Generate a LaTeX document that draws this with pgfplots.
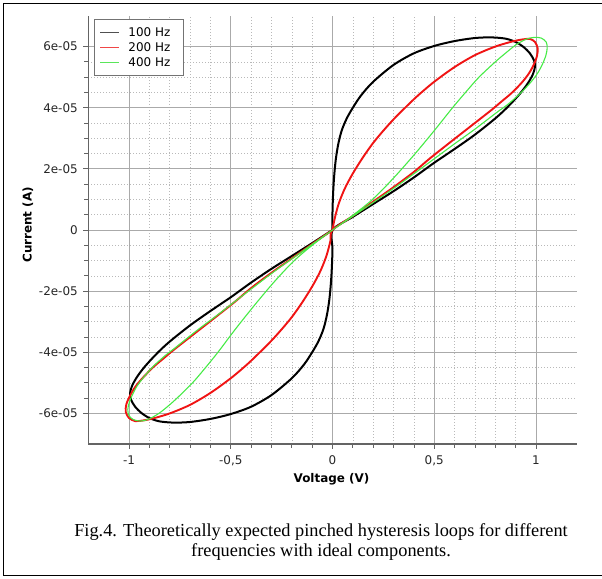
\documentclass[border=0pt]{standalone}
\usepackage{fontspec}
\setmainfont{DejaVu Sans}
\newfontfamily\capfont{Liberation Serif}
\usepackage{pgfplots}
\pgfplotsset{compat=1.18}
\usepackage{pgfplotstable}
\definecolor{gridmaj}{RGB}{170,170,170}
\definecolor{gridmin}{RGB}{185,185,185}
\definecolor{axgray}{RGB}{100,100,100}
\definecolor{cred}{RGB}{240,20,20}
\definecolor{cgreen}{RGB}{70,235,70}
\definecolor{lgblack}{RGB}{80,80,80}
\definecolor{lgred}{RGB}{240,70,70}
\definecolor{lggreen}{RGB}{90,230,90}

% 100 Hz
\pgfplotstableread{
x y
0 0
0 0.6e-5
0.003 1.2e-5
0.008 1.75e-5
0.016 2.3e-5
0.028 2.8e-5
0.045 3.25e-5
0.07 3.65e-5
0.1 4.0e-5
0.14 4.4e-5
0.2 4.85e-5
0.3 5.4e-5
0.4 5.78e-5
0.5 6.02e-5
0.6 6.18e-5
0.7 6.28e-5
0.78 6.3e-5
0.85 6.26e-5
0.9 6.15e-5
0.94 5.98e-5
0.97 5.78e-5
0.99 5.55e-5
0.995 5.35e-5
0.985 5.1e-5
0.96 4.8e-5
0.92 4.45e-5
0.86 4.02e-5
0.8 3.65e-5
0.7 3.12e-5
0.6 2.65e-5
0.5 2.2e-5
0.4 1.72e-5
0.3 1.27e-5
0.2 0.85e-5
0.1 0.43e-5
0 0
0 -0.6e-5
-0.003 -1.2e-5
-0.008 -1.75e-5
-0.016 -2.3e-5
-0.028 -2.8e-5
-0.045 -3.25e-5
-0.07 -3.65e-5
-0.1 -4.0e-5
-0.14 -4.4e-5
-0.2 -4.85e-5
-0.3 -5.4e-5
-0.4 -5.78e-5
-0.5 -6.02e-5
-0.6 -6.18e-5
-0.7 -6.28e-5
-0.78 -6.3e-5
-0.85 -6.26e-5
-0.9 -6.15e-5
-0.94 -5.98e-5
-0.97 -5.78e-5
-0.99 -5.55e-5
-0.995 -5.35e-5
-0.985 -5.1e-5
-0.96 -4.8e-5
-0.92 -4.45e-5
-0.86 -4.02e-5
-0.8 -3.65e-5
-0.7 -3.12e-5
-0.6 -2.65e-5
-0.5 -2.2e-5
-0.4 -1.72e-5
-0.3 -1.27e-5
-0.2 -0.85e-5
-0.1 -0.43e-5
0 0
}\blackloop

% 200 Hz
\pgfplotstableread{
x y
0 0
0.01 0.35e-5
0.03 0.85e-5
0.06 1.35e-5
0.1 1.85e-5
0.15 2.38e-5
0.2 2.85e-5
0.25 3.25e-5
0.3 3.62e-5
0.36 4.02e-5
0.42 4.4e-5
0.5 4.85e-5
0.6 5.33e-5
0.7 5.72e-5
0.8 6.0e-5
0.88 6.16e-5
0.93 6.23e-5
0.97 6.25e-5
0.995 6.15e-5
1.008 5.95e-5
1.005 5.7e-5
0.99 5.42e-5
0.965 5.12e-5
0.93 4.82e-5
0.88 4.48e-5
0.83 4.2e-5
0.78 3.92e-5
0.69 3.45e-5
0.59 2.93e-5
0.48 2.35e-5
0.4 1.9e-5
0.3 1.4e-5
0.2 0.93e-5
0.1 0.46e-5
0 0
-0.01 -0.35e-5
-0.03 -0.85e-5
-0.06 -1.35e-5
-0.1 -1.85e-5
-0.15 -2.38e-5
-0.2 -2.85e-5
-0.25 -3.25e-5
-0.3 -3.62e-5
-0.36 -4.02e-5
-0.42 -4.4e-5
-0.5 -4.85e-5
-0.6 -5.33e-5
-0.7 -5.72e-5
-0.8 -6.0e-5
-0.88 -6.16e-5
-0.93 -6.23e-5
-0.97 -6.25e-5
-1.0 -6.15e-5
-1.016 -5.95e-5
-1.013 -5.7e-5
-0.995 -5.42e-5
-0.968 -5.12e-5
-0.93 -4.82e-5
-0.88 -4.48e-5
-0.83 -4.2e-5
-0.78 -3.92e-5
-0.69 -3.45e-5
-0.59 -2.93e-5
-0.48 -2.35e-5
-0.4 -1.9e-5
-0.3 -1.4e-5
-0.2 -0.93e-5
-0.1 -0.46e-5
0 0
}\redloop

% 400 Hz
\pgfplotstableread{
x y
0 0
0.1 0.48e-5
0.2 1.02e-5
0.3 1.7e-5
0.4 2.45e-5
0.5 3.25e-5
0.59 4.0e-5
0.66 4.55e-5
0.72 5.0e-5
0.8 5.5e-5
0.853 5.8e-5
0.9 6.05e-5
0.951 6.24e-5
0.99 6.3e-5
1.025 6.28e-5
1.05 6.15e-5
1.055 5.95e-5
1.048 5.7e-5
1.03 5.4e-5
1.005 5.1e-5
0.97 4.8e-5
0.92 4.45e-5
0.86 4.1e-5
0.81 3.86e-5
0.7 3.3e-5
0.6 2.82e-5
0.5 2.33e-5
0.4 1.84e-5
0.3 1.36e-5
0.2 0.9e-5
0.1 0.45e-5
0 0
-0.096 -0.48e-5
-0.191 -1.02e-5
-0.287 -1.7e-5
-0.382 -2.45e-5
-0.478 -3.25e-5
-0.563 -4.0e-5
-0.63 -4.55e-5
-0.688 -5.0e-5
-0.764 -5.5e-5
-0.815 -5.8e-5
-0.86 -6.03e-5
-0.908 -6.2e-5
-0.945 -6.25e-5
-0.979 -6.2e-5
-1.0 -6.07e-5
-1.006 -5.88e-5
-0.999 -5.65e-5
-0.984 -5.4e-5
-0.96 -5.1e-5
-0.926 -4.8e-5
-0.879 -4.45e-5
-0.821 -4.1e-5
-0.774 -3.86e-5
-0.669 -3.3e-5
-0.573 -2.82e-5
-0.478 -2.33e-5
-0.382 -1.84e-5
-0.287 -1.36e-5
-0.191 -0.9e-5
-0.096 -0.45e-5
0 0
}\greenloop

\begin{document}
\begin{tikzpicture}
\useasboundingbox (0bp,0bp) rectangle (602bp,579bp);
\draw[line width=1.5bp] (602bp,575.5bp) -- (3.5bp,575.5bp) -- (3.5bp,3.5bp) -- (602bp,3.5bp);
\begin{axis}[
  at={(88.3bp,135bp)}, anchor=south west,
  scale only axis, width=488.4bp, height=428bp,
  xmin=-1.2, xmax=1.2, ymin=-7e-5, ymax=7e-5,
  axis lines=left,
  axis line style={-, axgray, line width=1.2bp},
  tick align=outside,
  major tick length=5bp, minor tick length=4bp,
  tick style={axgray, line width=0.8bp},
  xtick={-1,-0.5,0,0.5,1},
  xticklabels={-1,{-0,5},0,{0,5},1},
  minor x tick num=4,
  ytick={-6e-5,-4e-5,-2e-5,0,2e-5,4e-5,6e-5},
  yticklabels={-6e-05,-4e-05,-2e-05,0,2e-05,4e-05,6e-05},
  minor y tick num=3,
  scaled y ticks=false, scaled x ticks=false,
  grid=both,
  major grid style={gridmaj, line width=0.8bp},
  minor grid style={gridmin, dash pattern=on 1bp off 2bp, line width=0.6bp},
  ticklabel style={font=\fontsize{12}{14}\selectfont, text=black!85},
  xticklabel style={yshift=-3bp},
  yticklabel style={xshift=-2bp},
  xlabel={Voltage (V)},
  xlabel style={at={(axis description cs:0.498,-0.0825)}, anchor=center, font=\fontsize{12}{14}\selectfont\bfseries},
  ylabel={Current (A)},
  ylabel style={at={(axis description cs:-0.1235,0.512)}, anchor=center, font=\fontsize{12}{14}\selectfont\bfseries},
  legend style={at={(axis description cs:0,1)}, anchor=north west, xshift=5.7bp, yshift=-3bp,
    draw=black!55, line width=1bp, font=\fontsize{12}{14}\selectfont, fill=white,
    inner xsep=5bp, inner ysep=6bp, row sep=0.5bp,
    /tikz/every odd column/.append style={column sep=7bp}},
  legend cell align=left,
  legend image code/.code={\draw[#1] (0bp,0bp) -- (19bp,0bp);},
]
\addlegendimage{lgblack, line width=1bp}
\addlegendentry{100 Hz\kern6bp}
\addlegendimage{lgred, line width=1bp}
\addlegendentry{200 Hz\kern6bp}
\addlegendimage{lggreen, line width=1bp}
\addlegendentry{400 Hz\kern6bp}
\addplot[black, line width=2bp, smooth, tension=0.5, forget plot] table {\blackloop};
\addplot[cred, line width=1.9bp, smooth, tension=0.5, forget plot] table {\redloop};
\addplot[cgreen, line width=1.1bp, smooth, tension=0.5, forget plot] table {\greenloop};
\end{axis}
\node[align=center, font=\capfont\fontsize{18.4}{20.5}\selectfont] at (321bp,37bp)
  {Fig.4. Theoretically expected pinched hysteresis loops for different\\frequencies with ideal components.};
\end{tikzpicture}
\end{document}
